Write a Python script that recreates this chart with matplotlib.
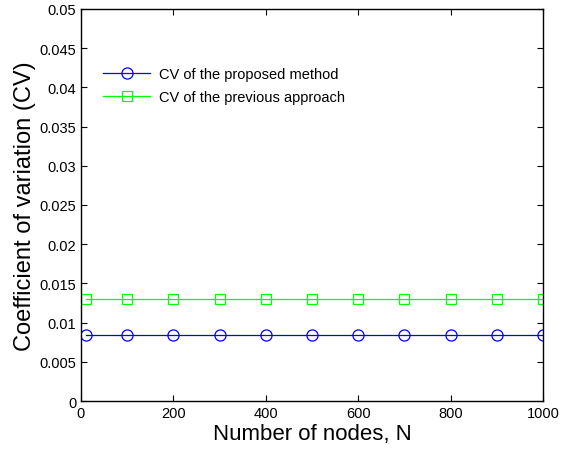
import matplotlib
matplotlib.use('Agg')
import matplotlib.pyplot as plt

plt.rcParams['font.family'] = ['Liberation Sans', 'DejaVu Sans']

# Data
nodes = [10, 100, 200, 300, 400, 500, 600, 700, 800, 900, 1000]
cv_proposed = [0.0084] * len(nodes)
cv_previous = [0.0130] * len(nodes)

fig = plt.figure(figsize=(5.64, 4.52), dpi=100)
ax = fig.add_axes([0.1436, 0.1106, 0.8192, 0.8674])

ax.plot(nodes, cv_proposed, color='blue', marker='o', markersize=8, markerfacecolor='none',
        markeredgewidth=0.9, linewidth=0.9, label='CV of the proposed method')
ax.plot(nodes, cv_previous, color='#00ff00', marker='s', markersize=7, markerfacecolor='none',
        markeredgewidth=0.9, linewidth=0.9, label='CV of the previous approach')

ax.set_xlim(0, 1000)
ax.set_ylim(0, 0.05)
ax.set_xticks(range(0, 1001, 200))
ax.set_yticks([i * 0.005 for i in range(11)])
ax.set_yticklabels(['0', '0.005', '0.01', '0.015', '0.02', '0.025', '0.03', '0.035', '0.04', '0.045', '0.05'])
ax.tick_params(direction='in', top=True, right=True, labelsize=10.5, length=4)
for s in ax.spines.values():
    s.set_linewidth(1.0)

ax.set_xlabel('Number of nodes, N', fontsize=16, labelpad=2)
ax.set_ylabel('Coefficient of variation (CV)', fontsize=17, labelpad=2)

ax.legend(loc='upper left', bbox_to_anchor=(0.02, 0.885), frameon=False, fontsize=10.5,
          handlelength=3.2, labelspacing=0.62, handletextpad=0.6)

plt.savefig('out.png', dpi=100)
